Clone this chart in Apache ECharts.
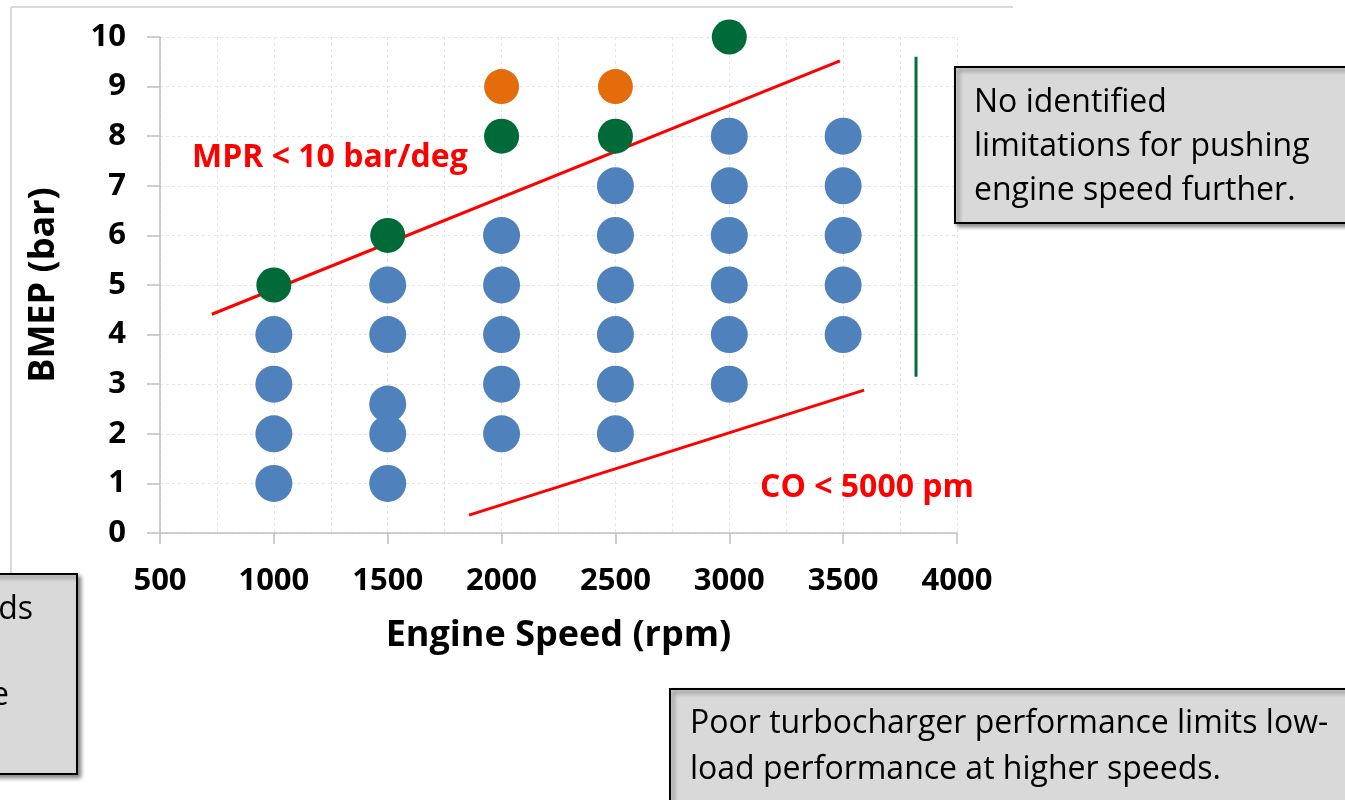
<!DOCTYPE html>
<html>
<head>
<meta charset="utf-8">
<script src="https://cdn.jsdelivr.net/npm/echarts@6/dist/echarts.min.js"></script>
<style>
html,body{margin:0;padding:0;background:#fff;}
#main{width:1345px;height:800px;}
</style>
</head>
<body>
<div id="main"></div>
<script>
// ---- data ----
const xTicks = [500, 1000, 1500, 2000, 2500, 3000, 3500, 4000];
const yTicks = [0, 1, 2, 3, 4, 5, 6, 7, 8, 9, 10];
const bluePoints = [
  [1000,1],[1000,2],[1000,3],[1000,4],
  [1500,1],[1500,2],[1500,2.6],[1500,4],[1500,5],
  [2000,2],[2000,3],[2000,4],[2000,5],[2000,6],
  [2500,2],[2500,3],[2500,4],[2500,5],[2500,6],[2500,7],
  [3000,3],[3000,4],[3000,5],[3000,6],[3000,7],[3000,8],
  [3500,4],[3500,5],[3500,6],[3500,7],[3500,8]
];
const greenPoints = [[1000,5],[1500,6],[2000,8],[2500,8],[3000,10]];
const orangePoints = [[2000,9],[2500,9]];
const mprLimit = [[728,4.41],[3486,9.52]];
const coLimit = [[1857,0.36],[3592,2.88]];
const speedLimit = [[3820,3.15],[3820,9.6]];

const xTitle = 'Engine Speed (rpm)';
const yTitle = 'BMEP (bar)';
const mprLabel = 'MPR < 10 bar/deg';
const coLabel = 'CO < 5000 pm';
const boxTopRight = 'No identified\nlimitations for pushing\nengine speed further.';
const boxBottom = 'Poor turbocharger performance limits low-\nload performance at higher speeds.';
const boxLeftLine1 = 'ds';
const boxLeftLine3 = 'e';

const FONT = '"Open Sans", "Liberation Sans", sans-serif';
const chart = echarts.init(document.getElementById('main'));

function rect(x, y, w, h) {
  return { type: 'rect', shape: { x: x, y: y, width: w, height: h }, z: 10,
    style: { fill: '#D9D9D9', stroke: '#000', lineWidth: 2,
      shadowBlur: 4, shadowOffsetX: 3, shadowOffsetY: 3, shadowColor: 'rgba(0,0,0,0.45)' } };
}
function txt(text, x, y, lh, align) {
  return { type: 'text', x: x, y: y, z: 11,
    style: { text: text, font: '400 32px ' + FONT, fill: '#000', lineHeight: lh,
      textVerticalAlign: 'top', textAlign: align || 'left' } };
}

const option = {
  backgroundColor: '#fff',
  animation: false,
  grid: { left: 160, right: 388, top: 37, bottom: 267 },
  xAxis: {
    type: 'value', min: 500, max: 4000, interval: 500,
    name: xTitle, nameLocation: 'middle', nameGap: 85,
    nameTextStyle: { fontFamily: FONT, fontWeight: 'bold', fontSize: 36, color: '#000' },
    axisLine: { show: true, onZero: false, lineStyle: { color: '#BFBFBF', width: 1.5 } },
    axisTick: { show: true, length: 11, lineStyle: { color: '#BFBFBF', width: 1.5 } },
    axisLabel: { fontFamily: FONT, fontWeight: 'bold', fontSize: 31, color: '#000', margin: 33,
      formatter: v => xTicks.includes(v) ? String(v) : '' },
    splitLine: { show: true, lineStyle: { color: '#E6E6E6', type: [3, 3], width: 1 } },
    minorTick: { show: false, splitNumber: 2 },
    minorSplitLine: { show: true, lineStyle: { color: '#E6E6E6', type: [3, 3], width: 1 } }
  },
  yAxis: {
    type: 'value', min: 0, max: 10, interval: 1,
    name: yTitle, nameLocation: 'middle', nameGap: 98, nameRotate: 90,
    nameTextStyle: { fontFamily: FONT, fontWeight: 'bold', fontSize: 36, color: '#000' },
    axisLine: { show: true, lineStyle: { color: '#BFBFBF', width: 1.5 } },
    axisTick: { show: true, length: 13, lineStyle: { color: '#BFBFBF', width: 1.5 } },
    axisLabel: { fontFamily: FONT, fontWeight: 'bold', fontSize: 31, color: '#000', margin: 34,
      formatter: v => yTicks.includes(v) ? String(v) : '' },
    splitLine: { show: true, lineStyle: { color: '#E6E6E6', type: [3, 3], width: 1 } }
  },
  series: [
    { type: 'line', data: mprLimit, symbol: 'none', lineStyle: { color: '#FF0000', width: 3 }, z: 2, silent: true },
    { type: 'line', data: coLimit, symbol: 'none', lineStyle: { color: '#FF0000', width: 3 }, z: 2, silent: true },
    { type: 'line', data: speedLimit, symbol: 'none', lineStyle: { color: '#00703C', width: 3 }, z: 2, silent: true },
    { type: 'scatter', data: bluePoints, symbolSize: 37, itemStyle: { color: '#4F81BD', opacity: 1 }, z: 3 },
    { type: 'scatter', data: greenPoints, symbolSize: 35, itemStyle: { color: '#006B38', opacity: 1 }, z: 4 },
    { type: 'scatter', data: orangePoints, symbolSize: 35, itemStyle: { color: '#E46C0A', opacity: 1 }, z: 4 }
  ],
  graphic: [
    { type: 'line', shape: { x1: 11, y1: 7, x2: 1013, y2: 7 }, style: { stroke: '#D9D9D9', lineWidth: 2 }, z: 1 },
    { type: 'line', shape: { x1: 11, y1: 7, x2: 11, y2: 580 }, style: { stroke: '#D9D9D9', lineWidth: 2 }, z: 1 },
    { type: 'text', x: 192, y: 158, z: 5,
      style: { text: mprLabel, font: 'bold 32px ' + FONT, fill: '#FF0000', textVerticalAlign: 'middle' } },
    { type: 'text', x: 760, y: 488, z: 5,
      style: { text: coLabel, font: 'bold 32px ' + FONT, fill: '#FF0000', textVerticalAlign: 'middle' } },
    rect(955, 67, 400, 156),
    txt(boxTopRight, 974, 81, 44),
    rect(670, 689, 690, 120),
    txt(boxBottom, 690, 701, 46),
    rect(-30, 574, 107, 200),
    txt(boxLeftLine1, 33, 588, 43, 'right'),
    txt(boxLeftLine3, 9, 674, 43, 'right')
  ]
};
chart.setOption(option);
</script>
</body>
</html>
